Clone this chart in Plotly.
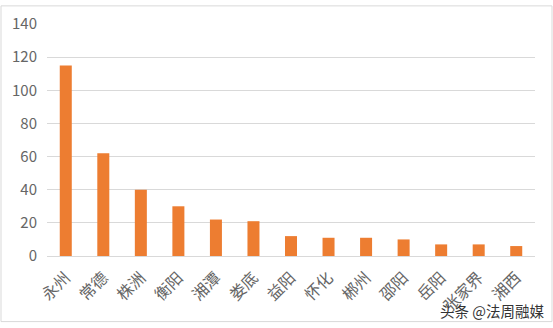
import plotly.graph_objects as go

categories = ["永州", "常德", "株洲", "衡阳", "湘潭", "娄底", "益阳", "怀化", "郴州", "邵阳", "岳阳", "张家界", "湘西"]
values = [115, 62, 40, 30, 22, 21, 12, 11, 11, 10, 7, 7, 6]
y_ticks = [0, 20, 40, 60, 80, 100, 120, 140]

W, H = 553, 328
L, R, T, B = 47, 18, 19, 72

fig = go.Figure(go.Bar(x=categories, y=values, marker=dict(color="#ED7D31", line=dict(width=0)),
                       width=0.32))

def px2paper_x(px):
    return (px - L) / (W - L - R)

def px2paper_y(py):
    return (H - B - py) / (H - T - B)

fig.update_layout(
    width=W, height=H,
    margin=dict(l=L, r=R, t=T, b=B, pad=0),
    paper_bgcolor="white", plot_bgcolor="white",
    font=dict(family="Noto Sans CJK SC", color="#595959", size=14),
    showlegend=False,
    xaxis=dict(tickangle=-45, showgrid=False, showline=True, linecolor="#D9D9D9", linewidth=1,
               ticks="", ticklabelstandoff=5, tickfont=dict(size=16, color="#666666"), range=[-0.5, 12.5]),
    yaxis=dict(range=[0, 140], tickvals=y_ticks, showgrid=True, gridcolor="#D9D9D9", gridwidth=1,
               zeroline=False, showline=False, ticks="", ticklabelstandoff=9,
               tickfont=dict(size=15, color="#666666")),
    shapes=[dict(type="rect", xref="paper", yref="paper",
                 x0=px2paper_x(1), x1=px2paper_x(552), y0=px2paper_y(323), y1=px2paper_y(0.5),
                 line=dict(color="#D9D9D9", width=1), fillcolor="rgba(0,0,0,0)")],
    annotations=[dict(text="头条 @法周融媒", xref="paper", yref="paper",
                      x=px2paper_x(546), y=px2paper_y(312), xanchor="right", yanchor="middle",
                      showarrow=False, font=dict(size=14.5, color="#333333", family="Noto Sans CJK SC"))],
)

fig.write_html("out.html")
